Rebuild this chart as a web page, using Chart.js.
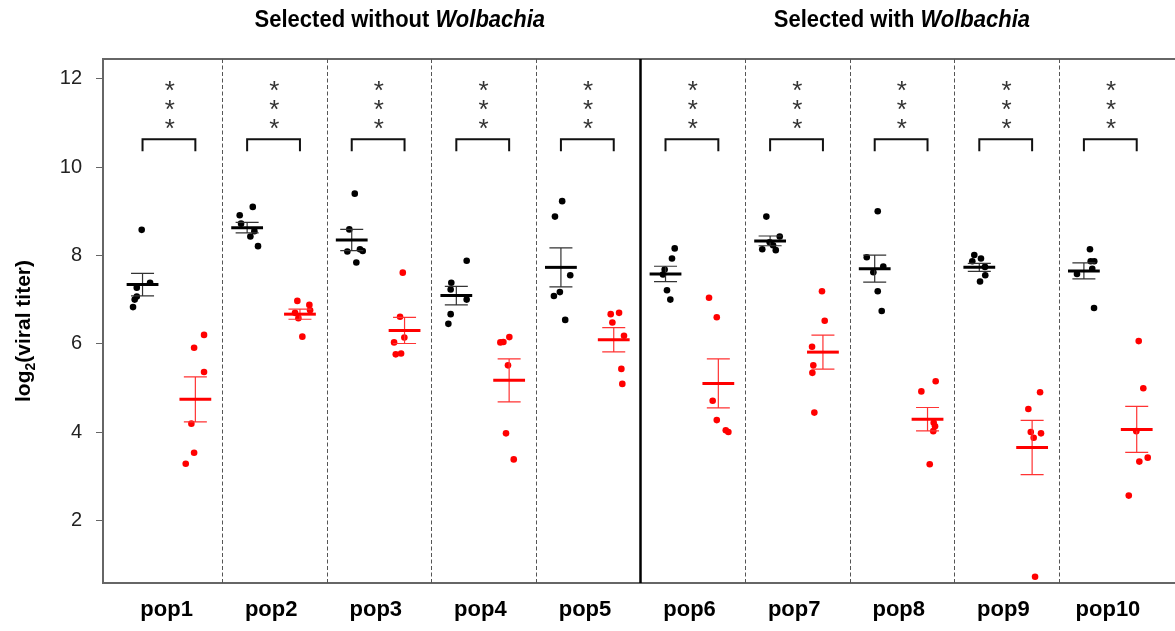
<!DOCTYPE html>
<html>
<head>
<meta charset="utf-8">
<script src="https://cdn.jsdelivr.net/npm/chart.js@4.4.0/dist/chart.umd.min.js"></script>
<style>
  html, body { margin: 0; padding: 0; background: #fff; }
  #wrap { width: 1175px; height: 631px; }
</style>
</head>
<body>
<div id="wrap"><canvas id="myChart" width="1175" height="631"></canvas></div>
<script>
// populations (x categories)
var popLabels = ['pop1', 'pop2', 'pop3', 'pop4', 'pop5', 'pop6', 'pop7', 'pop8', 'pop9', 'pop10'];
var yTicks = [2, 4, 6, 8, 10, 12];
var sigLabels = ['***', '***', '***', '***', '***', '***', '***', '***', '***', '***'];

// black points: log2(viral titer), one row per population
var blackValues = [
    [8.58, 7.38, 7.27, 7.07, 7.00, 6.83],
    [9.10, 8.91, 8.72, 8.55, 8.43, 8.21],
    [9.40, 8.59, 8.09, 8.14, 8.10, 7.84],
    [7.88, 7.38, 7.23, 7.00, 6.67, 6.45],
    [9.23, 8.88, 7.55, 7.17, 7.08, 6.54],
    [8.16, 7.93, 7.68, 7.57, 7.21, 7.00],
    [8.88, 8.43, 8.30, 8.23, 8.14, 8.12],
    [9.00, 7.96, 7.75, 7.62, 7.19, 6.74],
    [8.01, 7.93, 7.87, 7.74, 7.55, 7.41],
    [8.14, 7.87, 7.87, 7.70, 7.58, 6.81]
];
// horizontal jitter of the black points (x units)
var blackJitter = [
    [-0.008, 0.072, -0.055, -0.055, -0.075, -0.091],
    [0.054, -0.071, -0.058, 0.069, 0.031, 0.104],
    [0.029, -0.023, -0.042, 0.079, 0.105, 0.044],
    [0.099, -0.048, -0.054, 0.099, -0.054, -0.076],
    [0.012, -0.057, 0.089, -0.010, -0.067, 0.041],
    [0.088, 0.062, -0.008, -0.024, 0.014, 0.046],
    [-0.036, 0.092, -0.004, 0.028, -0.075, 0.054],
    [0.029, -0.076, 0.082, -0.013, 0.029, 0.067],
    [-0.048, 0.016, -0.067, 0.054, 0.057, 0.007],
    [0.058, 0.065, 0.099, 0.080, -0.066, 0.097]
];
var blackMeans = [7.34, 8.63, 8.35, 7.09, 7.73, 7.58, 8.33, 7.70, 7.73, 7.65];
var blackSE = [0.255, 0.12, 0.24, 0.21, 0.44, 0.175, 0.11, 0.305, 0.09, 0.18];

// red points
var redValues = [
    [6.20, 5.91, 5.36, 4.19, 3.53, 3.28],
    [6.97, 6.88, 6.76, 6.70, 6.58, 6.16],
    [7.61, 6.61, 6.14, 6.03, 5.78, 5.76],
    [6.15, 6.04, 6.03, 5.51, 3.97, 3.38],
    [6.67, 6.70, 6.48, 6.18, 5.43, 5.09],
    [7.04, 6.60, 4.71, 4.27, 4.04, 4.00],
    [7.19, 6.52, 5.93, 5.51, 5.34, 4.44],
    [5.15, 4.92, 4.21, 4.13, 4.02, 3.27],
    [4.90, 4.52, 4.00, 3.97, 3.87, 0.72],
    [6.06, 4.99, 4.02, 3.42, 3.33, 2.56]
];
var redJitter = [
    [0.083, -0.012, 0.083, -0.038, -0.012, -0.092],
    [-0.025, 0.090, 0.097, -0.047, -0.015, 0.023],
    [-0.017, -0.043, -0.002, -0.100, -0.033, -0.084],
    [0.002, -0.055, -0.084, -0.011, -0.030, 0.044],
    [-0.029, 0.051, -0.013, 0.098, 0.073, 0.082],
    [-0.089, -0.015, -0.054, -0.015, 0.071, 0.096],
    [-0.009, 0.017, -0.104, -0.092, -0.101, -0.082],
    [0.078, -0.059, 0.059, 0.072, 0.055, 0.021],
    [0.076, -0.036, -0.013, 0.085, 0.015, 0.028],
    [0.019, 0.063, -0.004, 0.105, 0.025, -0.076]
];
var redMeans = [4.74, 6.67, 6.30, 5.17, 6.09, 5.10, 5.81, 4.29, 3.65, 4.06];
var redSE = [0.51, 0.115, 0.295, 0.485, 0.275, 0.555, 0.385, 0.265, 0.615, 0.52];

var BLACK_OFF = -0.26;
var RED_OFF = 0.245;
var FONT = '"Liberation Sans", Arial, Helvetica, sans-serif';

function buildPoints(values, jitter, offset) {
    var pts = [];
    values.forEach(function (vals, i) {
        vals.forEach(function (v, j) {
            pts.push({ x: i + 1 + offset + jitter[i][j], y: v });
        });
    });
    return pts;
}

function drawMeanSE(ctx, xs, ys, x, mean, se, color, barColor) {
    var cx = xs.getPixelForValue(x);
    var half = xs.getPixelForValue(x + 0.152) - cx;
    var cap = xs.getPixelForValue(x + 0.11) - cx;
    var yHi = ys.getPixelForValue(mean + se);
    var yLo = ys.getPixelForValue(mean - se);
    var yM = ys.getPixelForValue(mean);
    ctx.strokeStyle = barColor;
    ctx.lineWidth = 1.2;
    ctx.beginPath();
    ctx.moveTo(cx, yHi); ctx.lineTo(cx, yLo);
    ctx.moveTo(cx - cap, yHi); ctx.lineTo(cx + cap, yHi);
    ctx.moveTo(cx - cap, yLo); ctx.lineTo(cx + cap, yLo);
    ctx.stroke();
    ctx.strokeStyle = color;
    ctx.lineWidth = 3;
    ctx.beginPath();
    ctx.moveTo(cx - half, yM); ctx.lineTo(cx + half, yM);
    ctx.stroke();
}

var overlayPlugin = {
    id: 'overlay',
    beforeDatasetsDraw: function (chart) {
        var ctx = chart.ctx, area = chart.chartArea;
        var xs = chart.scales.x;
        ctx.save();
        // top frame line
        ctx.strokeStyle = '#666';
        ctx.lineWidth = 2;
        ctx.beginPath();
        ctx.moveTo(area.left, area.top);
        ctx.lineTo(area.right, area.top);
        ctx.stroke();
        // panel dividers
        for (var i = 1; i < popLabels.length; i++) {
            var px = Math.round(xs.getPixelForValue(i + 0.5)) + 0.5;
            ctx.beginPath();
            if (i === 5) {
                ctx.setLineDash([]);
                ctx.strokeStyle = '#000';
                ctx.lineWidth = 2.5;
            } else {
                ctx.setLineDash([4, 2.5]);
                ctx.strokeStyle = '#555';
                ctx.lineWidth = 1;
            }
            ctx.moveTo(px, area.top);
            ctx.lineTo(px, area.bottom);
            ctx.stroke();
        }
        ctx.restore();
    },
    afterDatasetsDraw: function (chart) {
        var ctx = chart.ctx;
        var xs = chart.scales.x, ys = chart.scales.y;
        ctx.save();
        for (var i = 0; i < popLabels.length; i++) {
            drawMeanSE(ctx, xs, ys, i + 1 + BLACK_OFF, blackMeans[i], blackSE[i], '#000', '#333');
            drawMeanSE(ctx, xs, ys, i + 1 + RED_OFF, redMeans[i], redSE[i], '#f00', '#f33');

            // significance bracket
            var x1 = xs.getPixelForValue(i + 1 + BLACK_OFF);
            var x2 = xs.getPixelForValue(i + 1 + RED_OFF);
            var yTop = ys.getPixelForValue(10.63);
            var yLeg = ys.getPixelForValue(10.36);
            ctx.strokeStyle = '#111';
            ctx.lineWidth = 2;
            ctx.beginPath();
            ctx.moveTo(x1, yLeg); ctx.lineTo(x1, yTop); ctx.lineTo(x2, yTop); ctx.lineTo(x2, yLeg);
            ctx.stroke();

            // stacked asterisks
            var cx = xs.getPixelForValue(i + 1);
            var levels = [11.88, 11.46, 11.03];
            ctx.fillStyle = '#333';
            ctx.font = '26px ' + FONT;
            ctx.textAlign = 'center';
            ctx.textBaseline = 'alphabetic';
            for (var k = 0; k < sigLabels[i].length; k++) {
                ctx.fillText(sigLabels[i][k], cx, ys.getPixelForValue(levels[k]) + 15);
            }
        }
        ctx.restore();
    },
    afterDraw: function (chart) {
        var ctx = chart.ctx;
        var xs = chart.scales.x;
        ctx.save();
        ctx.fillStyle = '#000';
        ctx.textBaseline = 'alphabetic';
        ctx.textAlign = 'left';
        // group titles (slightly tall lettering, as in the original)
        var titles = [['Selected without ', 'Wolbachia', 3.2], ['Selected with ', 'Wolbachia', 8.0]];
        titles.forEach(function (t) {
            ctx.font = 'bold 22px ' + FONT;
            var w1 = ctx.measureText(t[0]).width;
            ctx.font = 'italic bold 22px ' + FONT;
            var w2 = ctx.measureText(t[1]).width;
            var start = xs.getPixelForValue(t[2]) - (w1 + w2) / 2;
            ctx.save();
            ctx.translate(0, 27);
            ctx.scale(1, 1.08);
            ctx.font = 'bold 22px ' + FONT;
            ctx.fillText(t[0], start, 0);
            ctx.font = 'italic bold 22px ' + FONT;
            ctx.fillText(t[1], start + w1, 0);
            ctx.restore();
        });
        // y axis title with subscript
        ctx.translate(23, 331);
        ctx.rotate(-Math.PI / 2);
        var big = 'bold 21px ' + FONT, small = 'bold 14px ' + FONT;
        ctx.font = big;
        var a = ctx.measureText('log').width;
        var c = ctx.measureText('(viral titer)').width;
        ctx.font = small;
        var b = ctx.measureText('2').width;
        var x0 = -(a + b + c) / 2;
        ctx.font = big;
        ctx.fillText('log', x0, 7);
        ctx.font = small;
        ctx.fillText('2', x0 + a, 12);
        ctx.font = big;
        ctx.fillText('(viral titer)', x0 + a + b, 7);
        ctx.restore();
    }
};

var ctx = document.getElementById('myChart').getContext('2d');
var currentChart = new Chart(ctx, {
    type: 'scatter',
    data: {
        datasets: [{
            label: 'black',
            data: buildPoints(blackValues, blackJitter, BLACK_OFF),
            backgroundColor: '#000',
            borderWidth: 0,
            pointRadius: 3.3
        }, {
            label: 'red',
            data: buildPoints(redValues, redJitter, RED_OFF),
            backgroundColor: '#f00',
            borderWidth: 0,
            pointRadius: 3.3
        }]
    },
    options: {
        responsive: false,
        animation: false,
        layout: { autoPadding: false, padding: { top: 59, right: 0, left: 0, bottom: 0 } },
        plugins: {
            legend: { display: false },
            tooltip: { enabled: false }
        },
        scales: {
            x: {
                type: 'linear',
                min: 0.362,
                max: 10.611,
                afterBuildTicks: function (scale) {
                    scale.ticks = popLabels.map(function (l, i) { return { value: i + 0.97 }; });
                },
                afterFit: function (scale) { scale.height = 48; },
                ticks: {
                    autoSkip: false,
                    maxRotation: 0,
                    padding: 14,
                    color: '#000',
                    font: { family: FONT, size: 22, weight: 'bold' },
                    callback: function (value, index) { return popLabels[index]; }
                },
                grid: { display: false, drawTicks: false },
                border: { display: true, color: '#666', width: 2 }
            },
            y: {
                min: 0.58,
                max: 12.45,
                afterBuildTicks: function (scale) {
                    scale.ticks = yTicks.map(function (v) { return { value: v }; });
                },
                afterFit: function (scale) { scale.width = 103; },
                ticks: {
                    padding: 14,
                    color: '#222',
                    font: { family: FONT, size: 20 }
                },
                grid: { display: true, drawOnChartArea: false, drawTicks: true, tickLength: 7, color: '#666' },
                border: { display: true, color: '#666', width: 2 }
            }
        }
    },
    plugins: [overlayPlugin]
});
</script>
</body>
</html>
